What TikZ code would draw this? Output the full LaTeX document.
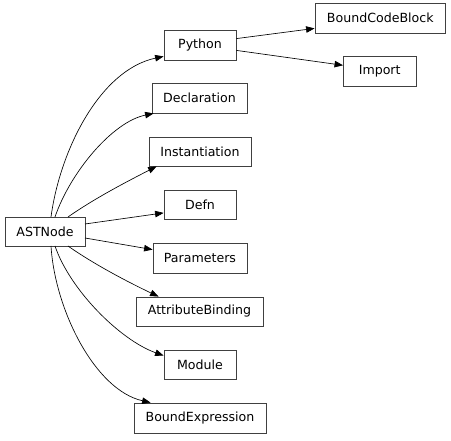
\documentclass[tikz,border=0pt]{standalone}
\usepackage{fontspec}
\setmainfont{DejaVu Sans}
\usetikzlibrary{arrows.meta}
\begin{document}
\begin{tikzpicture}[x=1pt,y=-1pt,
  cls/.style={draw=black!75,line width=0.8pt,rectangle,inner sep=0pt,
    font=\fontsize{12.6}{14}\selectfont,text=black},
  edge/.style={draw=black,line width=0.65pt,-{Triangle[length=8.5pt,width=6.5pt]}}]
\useasboundingbox (0,0) rectangle (451,441);
\node[cls,minimum width=80pt,minimum height=29pt] (ast) at (45,231.5) {ASTNode};
\node[cls,minimum width=72pt,minimum height=30pt] (py) at (200,45) {Python};
\node[cls,minimum width=130.5pt,minimum height=29.5pt] (bcb) at (380.25,18.25) {BoundCodeBlock};
\node[cls,minimum width=72.5pt,minimum height=30pt] (imp) at (379.7,71.7) {Import};
\node[cls,minimum width=95pt,minimum height=30pt] (decl) at (199.5,98) {Declaration};
\node[cls,minimum width=102pt,minimum height=29pt] (inst) at (200,151.5) {Instantiation};
\node[cls,minimum width=72pt,minimum height=29.5pt] (defn) at (200,204.75) {Defn};
\node[cls,minimum width=94pt,minimum height=30pt] (par) at (200,258) {Parameters};
\node[cls,minimum width=127pt,minimum height=29pt] (attr) at (199.5,311.5) {AttributeBinding};
\node[cls,minimum width=72pt,minimum height=29pt] (mod) at (200,364.5) {Module};
\node[cls,minimum width=132pt,minimum height=30pt] (bexp) at (200,418) {BoundExpression};
% edges
\coordinate (s1) at (51,217);
\coordinate (s2) at (55,217);
\coordinate (s3) at (68,217);
\coordinate (s4) at (85,224);
\coordinate (s5) at (85,238);
\coordinate (s6) at (68,246);
\coordinate (s7) at (55,246);
\coordinate (s8) at (51,246);
\draw[edge] (s1) .. controls (60,150) and (100,70) .. ([yshift=4pt]py.south west);
\draw[edge] (s2) .. controls (70,173) and (112,122) .. ([xshift=2pt]decl.south west);
\draw[edge] (s3) .. controls (95,198) and (130,180) .. ([xshift=8pt]inst.south west);
\draw[edge] (s4) -- ([yshift=7pt]defn.south west);
\draw[edge] (s5) -- ([yshift=-7pt]par.north west);
\draw[edge] (s6) .. controls (95,265) and (130,283) .. ([xshift=23pt]attr.north west);
\draw[edge] (s7) .. controls (70,290) and (120,340) .. ([yshift=-6pt]mod.north west);
\draw[edge] (s8) .. controls (55,310) and (95,390) .. ([xshift=17pt]bexp.north west);
\draw[edge] ([yshift=-9pt]py.north east) -- ([yshift=5pt]bcb.south west);
\draw[edge] ([yshift=10pt]py.south east) -- ([yshift=-9pt]imp.north west);
\end{tikzpicture}
\end{document}
